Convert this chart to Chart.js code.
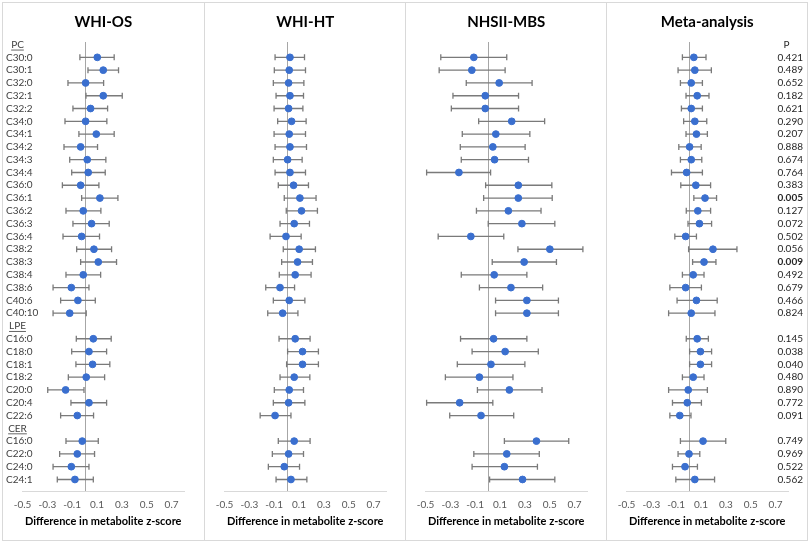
<!DOCTYPE html>
<html>
<head>
<meta charset="utf-8">
<script src="https://cdn.jsdelivr.net/npm/chart.js@4.4.1/dist/chart.umd.min.js"></script>
<style>
  body { margin: 0; background: #fff; width: 810px; height: 544px; position: relative; overflow: hidden; }
  .panel { position: absolute; top: 2px; height: 539px; border: 1px solid #d9d9d9; box-sizing: border-box; }
  .panel canvas { position: absolute; left: -1px; top: -1px; }
</style>
</head>
<body>
<div class="panel" style="left:2px;width:203px"><canvas id="c0" width="203" height="539"></canvas></div>
<div class="panel" style="left:204px;width:202px"><canvas id="c1" width="202" height="539"></canvas></div>
<div class="panel" style="left:405px;width:202px"><canvas id="c2" width="202" height="539"></canvas></div>
<div class="panel" style="left:606px;width:202px"><canvas id="c3" width="202" height="539"></canvas></div>
<script>
// === DATA ===
const pcLabels = ["C30:0", "C30:1", "C32:0", "C32:1", "C32:2", "C34:0", "C34:1", "C34:2", "C34:3", "C34:4",
  "C36:0", "C36:1", "C36:2", "C36:3", "C36:4", "C38:2", "C38:3", "C38:4", "C38:6", "C40:6", "C40:10"];
const lpeLabels = ["C16:0", "C18:0", "C18:1", "C18:2", "C20:0", "C20:4", "C22:6"];
const cerLabels = ["C16:0", "C22:0", "C24:0", "C24:1"];
const groupNames = ["PC", "LPE", "CER"];

const xTicks = [-0.5, -0.3, -0.1, 0.1, 0.3, 0.5, 0.7];

// WHI-OS
const osEst  = [0.102, 0.150, 0.008, 0.150, 0.048, 0.008, 0.094, -0.032, 0.021, 0.029, -0.032, 0.123, -0.011, 0.056, -0.024, 0.075, 0.110, -0.011, -0.107, -0.054, -0.120,
  0.070, 0.035, 0.064, 0.013, -0.153, 0.035, -0.059,
  -0.019, -0.059, -0.107, -0.078];
const osLow  = [-0.038, 0.027, -0.134, 0.011, -0.094, -0.158, -0.046, -0.166, -0.120, -0.104, -0.179, -0.024, -0.150, -0.094, -0.174, -0.064, -0.032, -0.150, -0.254, -0.193, -0.254,
  -0.067, -0.104, -0.070, -0.131, -0.297, -0.110, -0.193,
  -0.150, -0.201, -0.254, -0.220];
const osHigh = [0.238, 0.273, 0.153, 0.303, 0.185, 0.179, 0.238, 0.104, 0.171, 0.166, 0.115, 0.268, 0.131, 0.198, 0.120, 0.217, 0.257, 0.129, 0.035, 0.086, 0.013,
  0.214, 0.177, 0.203, 0.161, -0.005, 0.177, 0.072,
  0.110, 0.080, 0.035, 0.070];

// WHI-HT
const htEst  = [0.027, 0.021, 0.016, 0.027, 0.016, 0.040, 0.021, 0.027, 0.008, 0.027, 0.056, 0.107, 0.120, 0.061, -0.005, 0.101, 0.088, 0.069, -0.053, 0.021, -0.032,
  0.069, 0.128, 0.128, 0.061, 0.021, 0.016, -0.093,
  0.061, 0.016, -0.019, 0.035];
const htLow  = [-0.093, -0.099, -0.107, -0.085, -0.101, -0.072, -0.101, -0.093, -0.107, -0.093, -0.067, -0.019, -0.003, -0.053, -0.133, -0.027, -0.040, -0.059, -0.168, -0.107, -0.152,
  -0.061, 0.008, 0.000, -0.053, -0.099, -0.107, -0.213,
  -0.067, -0.115, -0.147, -0.085];
const htHigh = [0.144, 0.152, 0.139, 0.136, 0.131, 0.157, 0.152, 0.160, 0.125, 0.152, 0.176, 0.237, 0.248, 0.184, 0.117, 0.232, 0.208, 0.197, 0.064, 0.147, 0.091,
  0.189, 0.256, 0.256, 0.187, 0.136, 0.147, 0.035,
  0.189, 0.136, 0.104, 0.163];

// NHSII-MBS
const nhEst  = [-0.111, -0.127, 0.093, -0.019, -0.019, 0.194, 0.066, 0.042, 0.056, -0.231, 0.247, 0.247, 0.167, 0.276, -0.135, 0.501, 0.294, 0.053, 0.188, 0.316, 0.316,
  0.048, 0.141, 0.027, -0.066, 0.175, -0.225, -0.053,
  0.393, 0.154, 0.135, 0.281];
const nhLow  = [-0.377, -0.390, -0.172, -0.279, -0.292, -0.072, -0.204, -0.220, -0.212, -0.491, -0.016, -0.032, -0.090, 0.005, -0.398, 0.244, 0.037, -0.212, -0.066, 0.064, 0.064,
  -0.218, -0.125, -0.244, -0.340, -0.082, -0.491, -0.305,
  0.135, -0.111, -0.125, 0.016];
const nhHigh = [0.154, 0.141, 0.358, 0.249, 0.249, 0.459, 0.340, 0.302, 0.329, 0.024, 0.517, 0.520, 0.430, 0.541, 0.130, 0.767, 0.554, 0.316, 0.443, 0.570, 0.570,
  0.316, 0.408, 0.300, 0.204, 0.438, 0.042, 0.210,
  0.653, 0.416, 0.401, 0.541];

// Meta-analysis
const metaEst  = [0.042, 0.050, 0.021, 0.069, 0.021, 0.050, 0.063, 0.008, 0.021, -0.016, 0.058, 0.132, 0.074, 0.087, -0.024, 0.196, 0.124, 0.037, -0.024, 0.063, 0.021,
  0.069, 0.095, 0.095, 0.037, -0.003, -0.011, -0.071,
  0.116, 0.003, -0.029, 0.050];
const metaLow  = [-0.050, -0.085, -0.066, -0.021, -0.058, -0.040, -0.021, -0.079, -0.066, -0.138, -0.063, 0.042, -0.019, -0.005, -0.111, 0.000, 0.032, -0.050, -0.151, -0.093, -0.161,
  -0.019, 0.008, 0.008, -0.050, -0.161, -0.130, -0.151,
  -0.066, -0.085, -0.130, -0.103];
const metaHigh = [0.140, 0.183, 0.111, 0.164, 0.111, 0.146, 0.151, 0.101, 0.106, 0.111, 0.177, 0.225, 0.177, 0.185, 0.063, 0.389, 0.220, 0.124, 0.103, 0.230, 0.212,
  0.159, 0.185, 0.185, 0.124, 0.151, 0.103, 0.019,
  0.299, 0.090, 0.071, 0.209];
const pValues = [0.421, 0.489, 0.652, 0.182, 0.621, 0.290, 0.207, 0.888, 0.674, 0.764, 0.383, 0.005, 0.127, 0.072, 0.502, 0.056, 0.009, 0.492, 0.679, 0.466, 0.824,
  0.145, 0.038, 0.040, 0.480, 0.890, 0.772, 0.091,
  0.749, 0.969, 0.522, 0.562];

// === ROWS (group header + items) ===
const rows = [];      // { text, header }
const rowIndex = [];  // row position of each metabolite
[pcLabels, lpeLabels, cerLabels].forEach((items, g) => {
  rows.push({ text: groupNames[g], header: true });
  items.forEach((t) => {
    rowIndex.push(rows.length);
    rows.push({ text: t, header: false });
  });
});

const FONT = "Lato, 'Liberation Sans', sans-serif";

function forestPlugin(low, high, showLabels, showP) {
  return {
    id: "forest",
    beforeDatasetsDraw(chart) {
      const { ctx, chartArea, scales: { x, y } } = chart;
      ctx.save();
      // reference line at zero
      const x0 = Math.round(x.getPixelForValue(0)) + 0.5;
      ctx.strokeStyle = "#a6a6a6";
      ctx.lineWidth = 1;
      ctx.beginPath();
      ctx.moveTo(x0, chartArea.top);
      ctx.lineTo(x0, chartArea.bottom);
      ctx.stroke();
      // confidence intervals
      ctx.strokeStyle = "#7a7a7a";
      ctx.lineWidth = 1.3;
      low.forEach((lo, i) => {
        const yy = y.getPixelForValue(rowIndex[i]);
        const xl = x.getPixelForValue(lo);
        const xh = x.getPixelForValue(high[i]);
        ctx.beginPath();
        ctx.moveTo(xl, yy); ctx.lineTo(xh, yy);
        ctx.moveTo(xl, yy - 3); ctx.lineTo(xl, yy + 3);
        ctx.moveTo(xh, yy - 3); ctx.lineTo(xh, yy + 3);
        ctx.stroke();
      });
      ctx.restore();
    },
    afterDraw(chart) {
      const { ctx, scales: { y } } = chart;
      ctx.save();
      ctx.textBaseline = "middle";
      if (showLabels) {
        ctx.fillStyle = "#404040";
        ctx.strokeStyle = "#404040";
        ctx.lineWidth = 0.8;
        rows.forEach((r, i) => {
          const yy = y.getPixelForValue(i);
          ctx.font = "10px " + FONT;
          if (r.header) {
            ctx.textAlign = "center";
            ctx.fillText(r.text, 15.5, yy);
            const w = ctx.measureText(r.text).width;
            ctx.beginPath();
            ctx.moveTo(15.5 - w / 2, yy + 5.5);
            ctx.lineTo(15.5 + w / 2, yy + 5.5);
            ctx.stroke();
          } else {
            ctx.textAlign = "left";
            ctx.fillText(r.text, 4, yy);
          }
        });
      }
      if (showP) {
        ctx.fillStyle = "#262626";
        ctx.textAlign = "center";
        ctx.font = "10px " + FONT;
        ctx.fillText("P", 180.5, y.getPixelForValue(0));
        ctx.textAlign = "right";
        pValues.forEach((p, i) => {
          ctx.font = (p < 0.01 ? "bold " : "") + "10px " + FONT;
          ctx.fillText(p.toFixed(3), 197, y.getPixelForValue(rowIndex[i]));
        });
      }
      ctx.restore();
    },
  };
}

function makePanel(id, title, est, low, high, showLabels, showP, width) {
  const points = est.map((v, i) => ({ x: v, y: rowIndex[i] }));
  return new Chart(document.getElementById(id), {
    type: "scatter",
    data: {
      datasets: [{
        data: points,
        backgroundColor: "#3a6fcf",
        borderColor: "#3a6fcf",
        pointRadius: 3.4,
        pointHoverRadius: 3.4,
      }],
    },
    options: {
      responsive: false,
      animation: false,
      events: [],
      layout: { padding: { left: 20.5, right: width - 182, top: 0, bottom: 12.8 } },
      plugins: {
        legend: { display: false },
        tooltip: { enabled: false },
        title: {
          display: true,
          text: title,
          color: "#000",
          font: { family: FONT, size: 15, weight: "bold" },
          padding: { top: 11, bottom: 11 },
        },
      },
      scales: {
        x: {
          type: "linear",
          min: -0.5,
          max: 0.8,
          afterBuildTicks: (scale) => { scale.ticks = xTicks.map((v) => ({ value: v })); },
          grid: { display: true, color: "rgba(0,0,0,0)", drawTicks: false },
          border: { display: true, color: "#d9d9d9", width: 1 },
          ticks: {
            padding: 8,
            color: "#595959",
            font: { family: FONT, size: 10 },
            maxRotation: 0,
            callback: (v) => v.toFixed(1),
          },
          title: {
            display: true,
            text: "Difference in metabolite z-score",
            color: "#000",
            font: { family: FONT, size: 11, weight: "bold" },
            padding: { top: -4, bottom: 0 },
          },
        },
        y: {
          type: "linear",
          display: false,
          reverse: true,
          min: -0.2,
          max: 34.9,
        },
      },
    },
    plugins: [forestPlugin(low, high, showLabels, showP)],
  });
}

makePanel("c0", "WHI-OS", osEst, osLow, osHigh, true, false, 203);
makePanel("c1", "WHI-HT", htEst, htLow, htHigh, false, false, 202);
makePanel("c2", "NHSII-MBS", nhEst, nhLow, nhHigh, false, false, 202);
makePanel("c3", "Meta-analysis", metaEst, metaLow, metaHigh, false, true, 202);
</script>
</body>
</html>
